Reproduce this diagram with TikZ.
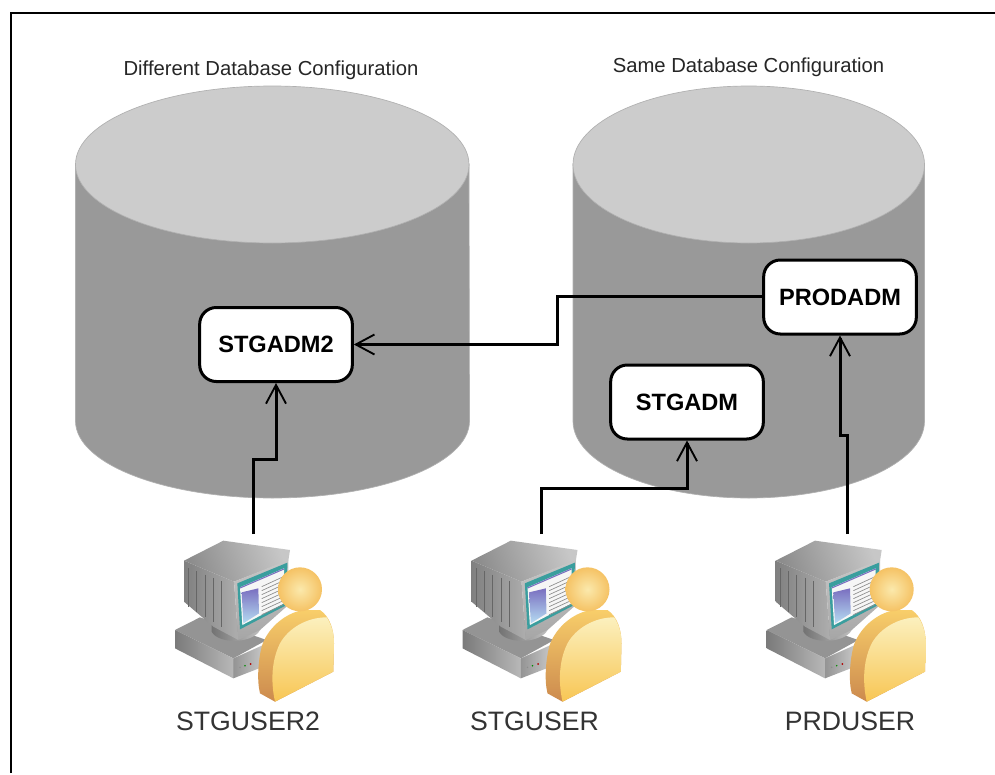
\documentclass[tikz,border=0pt]{standalone}
\usepackage{fontspec}
\setmainfont{Liberation Sans}
\usetikzlibrary{arrows.meta}
\definecolor{cylside}{HTML}{999999}
\definecolor{cyltop}{HTML}{CCCCCC}
\definecolor{cyledge}{HTML}{B0B0B0}
\definecolor{tealscr}{HTML}{3A9E9E}
\definecolor{sidetop}{HTML}{F8CE6A}
\definecolor{sidebot}{HTML}{CC8A4E}
\definecolor{facetop}{HTML}{FBF0BE}
\definecolor{facebot}{HTML}{F8C654}
\definecolor{headin}{HTML}{FBE9AC}
\definecolor{headout}{HTML}{F5C264}
\definecolor{scrtop}{HTML}{7A6FC0}
\definecolor{scrbot}{HTML}{B5DCF2}
\tikzset{
  x=0.75pt,y=-0.75pt,
  cylbody/.style={fill=cylside,draw=cyledge,line width=0.5pt},
  cyllid/.style={fill=cyltop,draw=cyledge,line width=0.5pt},
  admbox/.style={draw=black,line width=2.25pt,fill=white,rounded corners=12.5pt,minimum width=114.5pt,minimum height=55.5pt,inner sep=0pt,font=\bfseries\fontsize{17.7}{20}\selectfont},
  link/.style={draw=black,line width=2.25pt,-{Straight Barb[length=14pt,width=15pt,line width=1.4pt]}},
  caption/.style={font=\fontsize{15.2}{18}\selectfont,text=black!85,inner sep=0pt,anchor=base},
  usrlabel/.style={font=\fontsize{20}{24}\selectfont,text=black!80,inner sep=0pt,anchor=base},
  usricon/.pic={
    \begin{scope}[x=0.25pt,y=-0.25pt]
    % base of the computer
    \fill[black!42] (45,300) -- (120,262) -- (320,330) -- (220,385) -- cycle;
    \shade[left color=black!52,right color=black!28] (45,300) -- (220,385) -- (220,445) -- (45,355) -- cycle;
    \shade[left color=black!42,right color=black!22] (220,385) -- (310,345) -- (310,410) -- (220,445) -- cycle;
    \fill[red!70!black] (272,402) circle (3);
    \fill[green!55!black] (255,407) circle (2.5);
    \fill[black!45] (240,412) circle (2.5);
    % stand
    \shade[left color=black!55,right color=black!25] (155,270) -- (155,305) .. controls (165,325) and (200,335) .. (235,332) .. controls (260,330) and (290,320) .. (300,300) -- (300,270) -- cycle;
    % monitor side with ribs
    \shade[left color=black!50,right color=black!32] (72,92) -- (222,155) -- (235,330) -- (160,290) -- (72,215) -- cycle;
    \foreach \rx in {85,110,135,160,185}{\draw[black!60,line width=.5pt] (\rx,{110+(\rx-72)*.38}) -- (\rx,{222+(\rx-72)*.6});}
    % monitor top
    \shade[left color=black!45,right color=black!22,shading angle=110] (72,92) -- (190,32) -- (390,60) -- (385,92) -- (222,155) -- cycle;
    % bezel
    \shade[top color=black!22,bottom color=black!35] (222,155) -- (385,90) -- (385,225) -- (300,300) -- (235,330) -- cycle;
    % screen
    \fill[tealscr] (232,160) -- (382,98) -- (380,225) -- (240,298) -- cycle;
    \fill[white!93!gray] (240,172) -- (372,115) -- (372,220) -- (247,285) -- cycle;
    \draw[scrtop,line width=.8pt] (240,174) -- (372,117);
    \shade[top color=scrtop,bottom color=scrbot] (245,187) -- (295,175) -- (297,250) -- (250,280) -- cycle;
    \foreach \ly in {0,12,...,84}{\draw[black!45,line width=.5pt] (305,{170+\ly}) -- (370,{140+\ly});}
    % person
    \shade[top color=sidetop,bottom color=sidebot]
      (345,515) -- (300,490) .. controls (290,450) and (295,390) .. (305,350)
      .. controls (320,300) and (370,250) .. (430,240) -- (480,240)
      .. controls (510,260) and (522,300) .. (522,340) -- (520,425) -- cycle;
    \shade[top color=facetop,bottom color=facebot]
      (345,515) .. controls (335,470) and (330,400) .. (360,340)
      .. controls (385,295) and (440,262) .. (500,262)
      .. controls (515,285) and (522,310) .. (522,340) -- (520,425) -- cycle;
    \shade[inner color=headin,outer color=headout] (420,178) circle (66);
    \end{scope}
  }
}
\begin{document}
\begin{tikzpicture}
\useasboundingbox (0,0) rectangle (995,774);
\fill[white] (0,0) rectangle (995,774);
\draw[line width=1.5pt] (10.7,773) -- (10.7,13.3) -- (995,13.3);

% cylinders
\draw[cylbody] (75.5,164) -- (75.5,421) arc[start angle=180,end angle=0,x radius=197,y radius=77] -- (469,164) -- cycle;
\draw[cyllid] (272.25,164.5) ellipse[x radius=196.75,y radius=78.5];
\draw[cylbody] (573,164) -- (573,421) arc[start angle=180,end angle=0,x radius=175.75,y radius=77] -- (924.5,164) -- cycle;
\draw[cyllid] (748.75,164.5) ellipse[x radius=175.75,y radius=78.5];

\node[caption] (capd) at (271,75) {Different Database Configuration};
\node[caption] (caps) at (748.5,73) {Same Database Configuration};

\node[admbox] (stgadm2) at (276,344.5) {STGADM2};
\node[admbox] (stgadm) at (687,402) {STGADM};
\node[admbox] (prodadm) at (840,297) {PRODADM};

% users
\pic (u1) at (160,530) {usricon};
\pic (u2) at (447.5,530) {usricon};
\pic (u3) at (751.7,530) {usricon};
\coordinate (u1top) at (253,534);
\coordinate (u2top) at (541,534);
\coordinate (u3top) at (847,534);

\node[usrlabel] (n1) at (248,730) {STGUSER2};
\node[usrlabel] (n2) at (534.5,730) {STGUSER};
\node[usrlabel] (n3) at (850,730) {PRDUSER};

% connectors
\draw[link] (u1top) |- (stgadm2.south |- 0,459) -- (stgadm2.south);
\draw[link] (u2top) |- (stgadm.south |- 0,488.5) -- (stgadm.south);
\draw[link] (u3top) |- (prodadm.south |- 0,435) -- (prodadm.south);
\draw[link] (prodadm.west |- 0,296) -| (557.5,344.5) -- (stgadm2.east);
\end{tikzpicture}
\end{document}
